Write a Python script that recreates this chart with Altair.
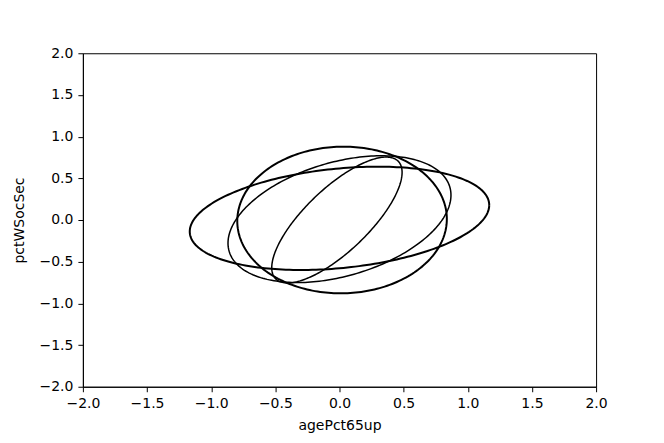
import altair as alt
import numpy as np
import pandas as pd

# Ellipse parameters: centre, covariance-like shape (a=var x, b=var y, c=cov)
ell_names = ["wide", "round", "medium", "narrow"]
ell_cx = [0.0, 0.02, 0.0, -0.02]
ell_cy = [0.02, 0.0, 0.01, 0.0]
ell_a = [1.362, 0.667, 0.755, 0.258]
ell_b = [0.384, 0.774, 0.578, 0.570]
ell_c = [0.185, 0.01, 0.25, 0.29]
ell_width = [2.0, 2.0, 1.5, 1.5]

x_ticks = [-2.0, -1.5, -1.0, -0.5, 0.0, 0.5, 1.0, 1.5, 2.0]
y_ticks = [-2.0, -1.5, -1.0, -0.5, 0.0, 0.5, 1.0, 1.5, 2.0]

rows = []
t = np.linspace(0, 2 * np.pi, 241)
for name, cx, cy, a, b, c, w in zip(ell_names, ell_cx, ell_cy, ell_a, ell_b, ell_c, ell_width):
    cov = np.array([[a, c], [c, b]])
    L = np.linalg.cholesky(cov)
    pts = L @ np.vstack([np.cos(t), np.sin(t)])
    for i in range(len(t)):
        rows.append({"ellipse": name, "i": i, "x": cx + pts[0, i], "y": cy + pts[1, i], "w": w})
df = pd.DataFrame(rows)

minus = "replace(format(datum.value, '.1f'), '-', '\u2212')"

common = dict(grid=False, domainColor="black", tickColor="black", tickSize=5,
              labelFontSize=14, titleFontSize=14, labelColor="black",
              titleColor="black", titleFontWeight="normal", labelFlush=False,
              labelOverlap=False,
              labelFont="DejaVu Sans", titleFont="DejaVu Sans")

chart = alt.Chart(df).mark_line(color="black", clip=True).encode(
    x=alt.X("x:Q", scale=alt.Scale(domain=[-2, 2], nice=False, zero=False),
            axis=alt.Axis(title="agePct65up", values=x_ticks, labelExpr=minus,
                          labelPadding=5, titlePadding=8, **common)),
    y=alt.Y("y:Q", scale=alt.Scale(domain=[-2, 2], nice=False, zero=False),
            axis=alt.Axis(title="pctWSocSec", values=y_ticks, labelExpr=minus,
                          labelPadding=5, titlePadding=12, **common)),
    detail="ellipse:N",
    order="i:Q",
    strokeWidth=alt.StrokeWidth("w:Q", scale=None, legend=None),
).properties(
    width=514, height=334,
    autosize=alt.AutoSizeParams(type="none"),
    padding={"left": 75, "top": 45, "right": 60, "bottom": 48},
).configure_view(stroke="black", strokeWidth=1)

chart.save("out.html", embed_options={"renderer": "svg", "actions": False})
